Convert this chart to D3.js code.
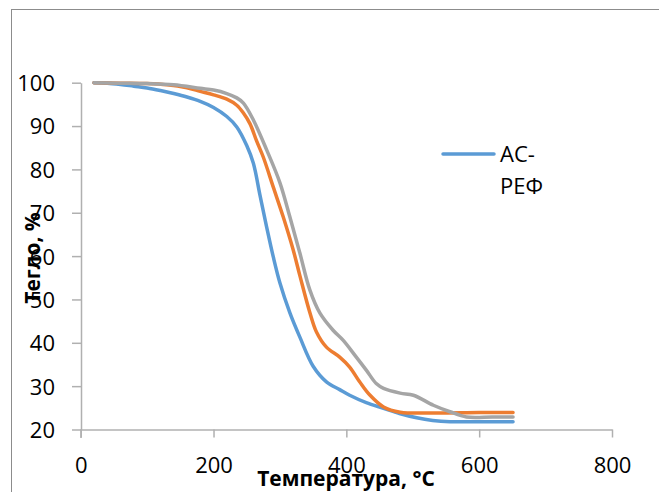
<!DOCTYPE html>
<html><head><meta charset="utf-8">
<script src="https://cdn.jsdelivr.net/npm/d3@7"></script>
<style>body{margin:0;background:#fff}svg{display:block}text{font-family:"Open Sans",sans-serif}</style>
</head><body><svg id="c" width="659" height="492"></svg>
<script>
const xTicks = [0, 200, 400, 600, 800];
const yTicks = [20, 30, 40, 50, 60, 70, 80, 90, 100];
const seriesNames = ["АС-РЕФ", "S2", "S3"];
const legendLines = ["АС-", "РЕФ"];
const blueT = [20,40,60,80,100,120,140,160,180,200,220,235,250,260,270,280,290,300,315,330,350,370,390,405,430,456,480,506,530,556,600,651];
const blueV = [100,99.9,99.6,99.2,98.8,98.2,97.5,96.7,95.7,94.3,92.2,89.8,85.5,81.4,74,66.7,59.8,53.8,46.9,41.3,34.6,31,29.2,27.9,26.2,24.9,23.7,22.7,22.1,21.8,21.8,21.8];
const orangeT = [20,60,100,130,160,180,200,220,235,245,255,265,275,290,305,320,330,345,355,370,390,405,420,435,456,481,531,600,651];
const orangeV = [100,99.9,99.8,99.5,98.8,98,97.2,96.2,94.8,93,90.5,86.5,82.8,75.9,69,61.4,55.5,47,42.5,39,36.7,34.4,31,28,25.2,24,23.8,23.9,23.9];
const grayT = [20,60,100,140,180,200,220,235,245,260,280,300,315,330,345,360,380,395,415,430,445,456,481,501,531,556,581,620,651];
const grayV = [100,99.9,99.8,99.5,98.7,98.3,97.5,96.5,95.3,91.4,84.5,76.9,69,60.7,52.2,46.9,42.9,40.6,36.7,33.7,30.6,29.5,28.4,27.9,25.6,24.1,22.9,22.9,22.9];
const colors = ["#5B9BD5", "#ED7D31", "#A5A5A5"];

const svg = d3.select("#c");
svg.append("rect").attr("x",11.5).attr("y",9.5).attr("width",700).attr("height",600)
  .attr("fill","#fff").attr("stroke","#8c8c8c").attr("stroke-width",1);

const x = d3.scaleLinear().domain([0,800]).range([80.7,612]);
const y = d3.scaleLinear().domain([20,100]).range([429.5,82.7]);
const axisColor = "#b0b0b0";

// x axis
const gx = svg.append("g").attr("transform","translate(0,429.5)")
  .call(d3.axisBottom(x).tickValues(xTicks).tickSize(8).tickPadding(0).tickSizeOuter(0));
gx.select(".domain").attr("stroke",axisColor).attr("stroke-width",1.5);
gx.selectAll(".tick line").attr("stroke",axisColor).attr("stroke-width",1.5);
gx.selectAll(".tick text").attr("font-size",22).attr("fill","#000").attr("dy",null).attr("y",43);

// y axis
const gy = svg.append("g").attr("transform","translate(81,0)")
  .call(d3.axisLeft(y).tickValues(yTicks).tickSize(9).tickPadding(0).tickSizeOuter(0));
gy.select(".domain").attr("stroke",axisColor).attr("stroke-width",1.5);
gy.selectAll(".tick line").attr("stroke",axisColor).attr("stroke-width",1.5);
gy.selectAll(".tick text").attr("font-size",22).attr("fill","#000").attr("x",-26).attr("dy","0.36em");
svg.append("line").attr("x1",81).attr("x2",81).attr("y1",429.5).attr("y2",438)
  .attr("stroke",axisColor).attr("stroke-width",1.5);

// lines
const line = d3.line().x(d=>x(d[0])).y(d=>y(d[1])).curve(d3.curveCatmullRom.alpha(0.5));
const series = [d3.zip(blueT,blueV), d3.zip(orangeT,orangeV), d3.zip(grayT,grayV)];
series.forEach((s,i)=>{
  svg.append("path").datum(s).attr("d",line).attr("fill","none")
    .attr("stroke",colors[i]).attr("stroke-width",3.5).attr("stroke-linecap","round").attr("stroke-linejoin","round");
});

// titles
svg.append("text").attr("x",346).attr("y",486).attr("text-anchor","middle")
  .attr("font-size",21).attr("font-weight","bold").text("Температура, °C");
svg.append("text").attr("transform","translate(40,258) rotate(-90)").attr("text-anchor","middle")
  .attr("font-size",21).attr("font-weight","bold").text("Тегло, %");

// legend
svg.append("line").attr("x1",443).attr("x2",494).attr("y1",154).attr("y2",154)
  .attr("stroke",colors[0]).attr("stroke-width",3.5).attr("stroke-linecap","round");
svg.append("text").attr("x",500).attr("y",162).attr("font-size",22).text(legendLines[0]);
svg.append("text").attr("x",500).attr("y",194).attr("font-size",22).text(legendLines[1]);
</script></body></html>
